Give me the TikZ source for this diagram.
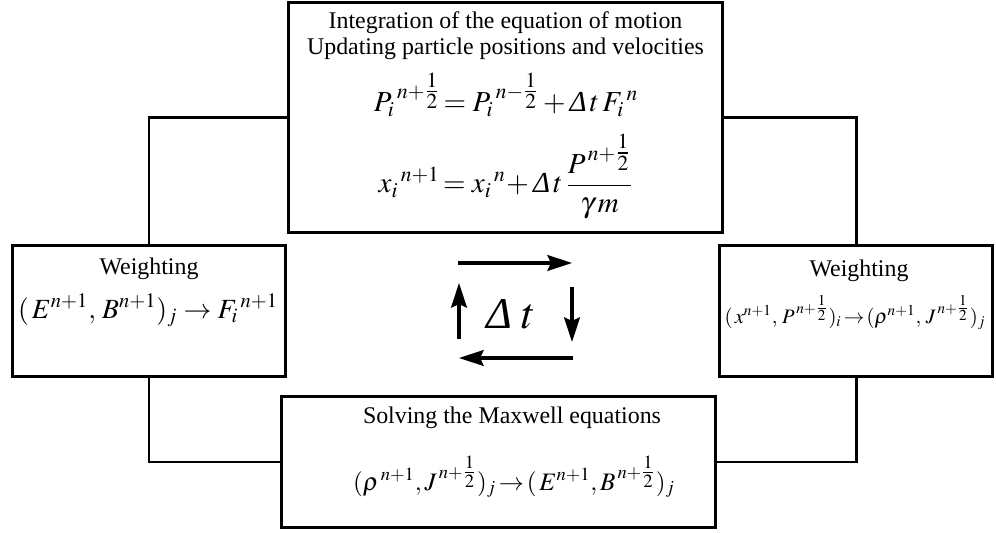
\documentclass[tikz,border=0pt]{standalone}
\usepackage{amsmath}
\usepackage{mathptmx}
\usepackage[no-math]{fontspec}
\setmainfont{Liberation Serif}
\usetikzlibrary{arrows.meta}
\tikzstyle{stage}=[rectangle,draw=black,line width=1.7pt,inner sep=0pt]
\tikzstyle{link}=[line width=1.7pt]
\tikzstyle{cyc}=[-{Stealth[length=14pt,width=9pt,inset=2pt]},line width=1.8pt]
\tikzstyle{bigeq}=[anchor=base,font=\fontsize{16.5}{18}\selectfont]
\newcommand{\hlf}{\genfrac{}{}{}{1}{1}{2}}
\newcommand{\dlt}{\textit{Δ}}

\begin{document}
\begin{tikzpicture}[x=0.02cm,y=-0.02cm,font=\fontsize{13.6}{14.8}\selectfont]
\useasboundingbox (0,0) rectangle (996,533);
% boxes
\node[stage,minimum width=8.7cm,minimum height=4.62cm] (push) at (505.5,117.5) {};
\node[stage,minimum width=5.48cm,minimum height=2.64cm] (wf) at (149,311) {};
\node[stage,minimum width=5.48cm,minimum height=2.64cm] (wj) at (856,311) {};
\node[stage,minimum width=8.7cm,minimum height=2.64cm] (mx) at (498.5,462) {};
% links
\draw[link] (push.west) -| (wf.north);
\draw[link] (push.east) -| (wj.north);
\draw[link] (wf.south) |- (mx.west);
\draw[link] (wj.south) |- (mx.east);
% texts
\node[anchor=base] (pusha) at (505.5,29) {Integration of the equation of motion};
\node[anchor=base] (pushb) at (505.5,55) {Updating particle positions and velocities};
\node[bigeq] (eqp) at (506,112) {$\displaystyle {P_i}^{\,n+\hlf}\!={P_i}^{\,n-\hlf}+\dlt\,t\,{F_i}^{\,n}$};
\node[bigeq] (eqx) at (506,193) {$\displaystyle {x_i}^{\,n+1}\!={x_i}^{\,n}\!+\dlt\,t\,\frac{P^{\,n+\hlf}}{\gamma\, m}$};
\node[anchor=base] (wft) at (149,275) {Weighting};
\node[anchor=base,font=\fontsize{15.8}{17}\selectfont] (wfe) at (148,318) {$(\,E^{n+1},\,B^{n+1})_j\rightarrow {F_i}^{\,n+1}$};
\node[anchor=base] (wjt) at (859,276) {Weighting};
\node[anchor=base,font=\fontsize{11.7}{14}\selectfont] (wje) at (855,323) {$(\,x^{n+1},\,P^{\,n+\hlf})_i\!\rightarrow\!(\rho^{n+1},\,J^{\,n+\hlf})_j$};
\node[anchor=base] (mxt) at (512,423) {Solving the Maxwell equations};
\node[anchor=base,font=\fontsize{14.3}{16}\selectfont] (mxe) at (514,490) {$(\rho^{\,n+1},J^{\,n+\hlf})_j\!\rightarrow\!(\,E^{n+1},B^{\,n+\hlf})_j$};
% time step cycle
\node[font=\fontsize{25}{28}\selectfont] (dt) at (511,314) {$\dlt\;t$};
\coordinate (a1) at (458,263); \coordinate (a2) at (572,263);
\coordinate (b1) at (572,287); \coordinate (b2) at (572,342);
\coordinate (c1) at (573,358); \coordinate (c2) at (459,358);
\coordinate (d1) at (459,339); \coordinate (d2) at (459,283);
\draw[cyc] (a1) -- (a2);
\draw[cyc] (b1) -- (b2);
\draw[cyc] (c1) -- (c2);
\draw[cyc] (d1) -- (d2);
\end{tikzpicture}
\end{document}
